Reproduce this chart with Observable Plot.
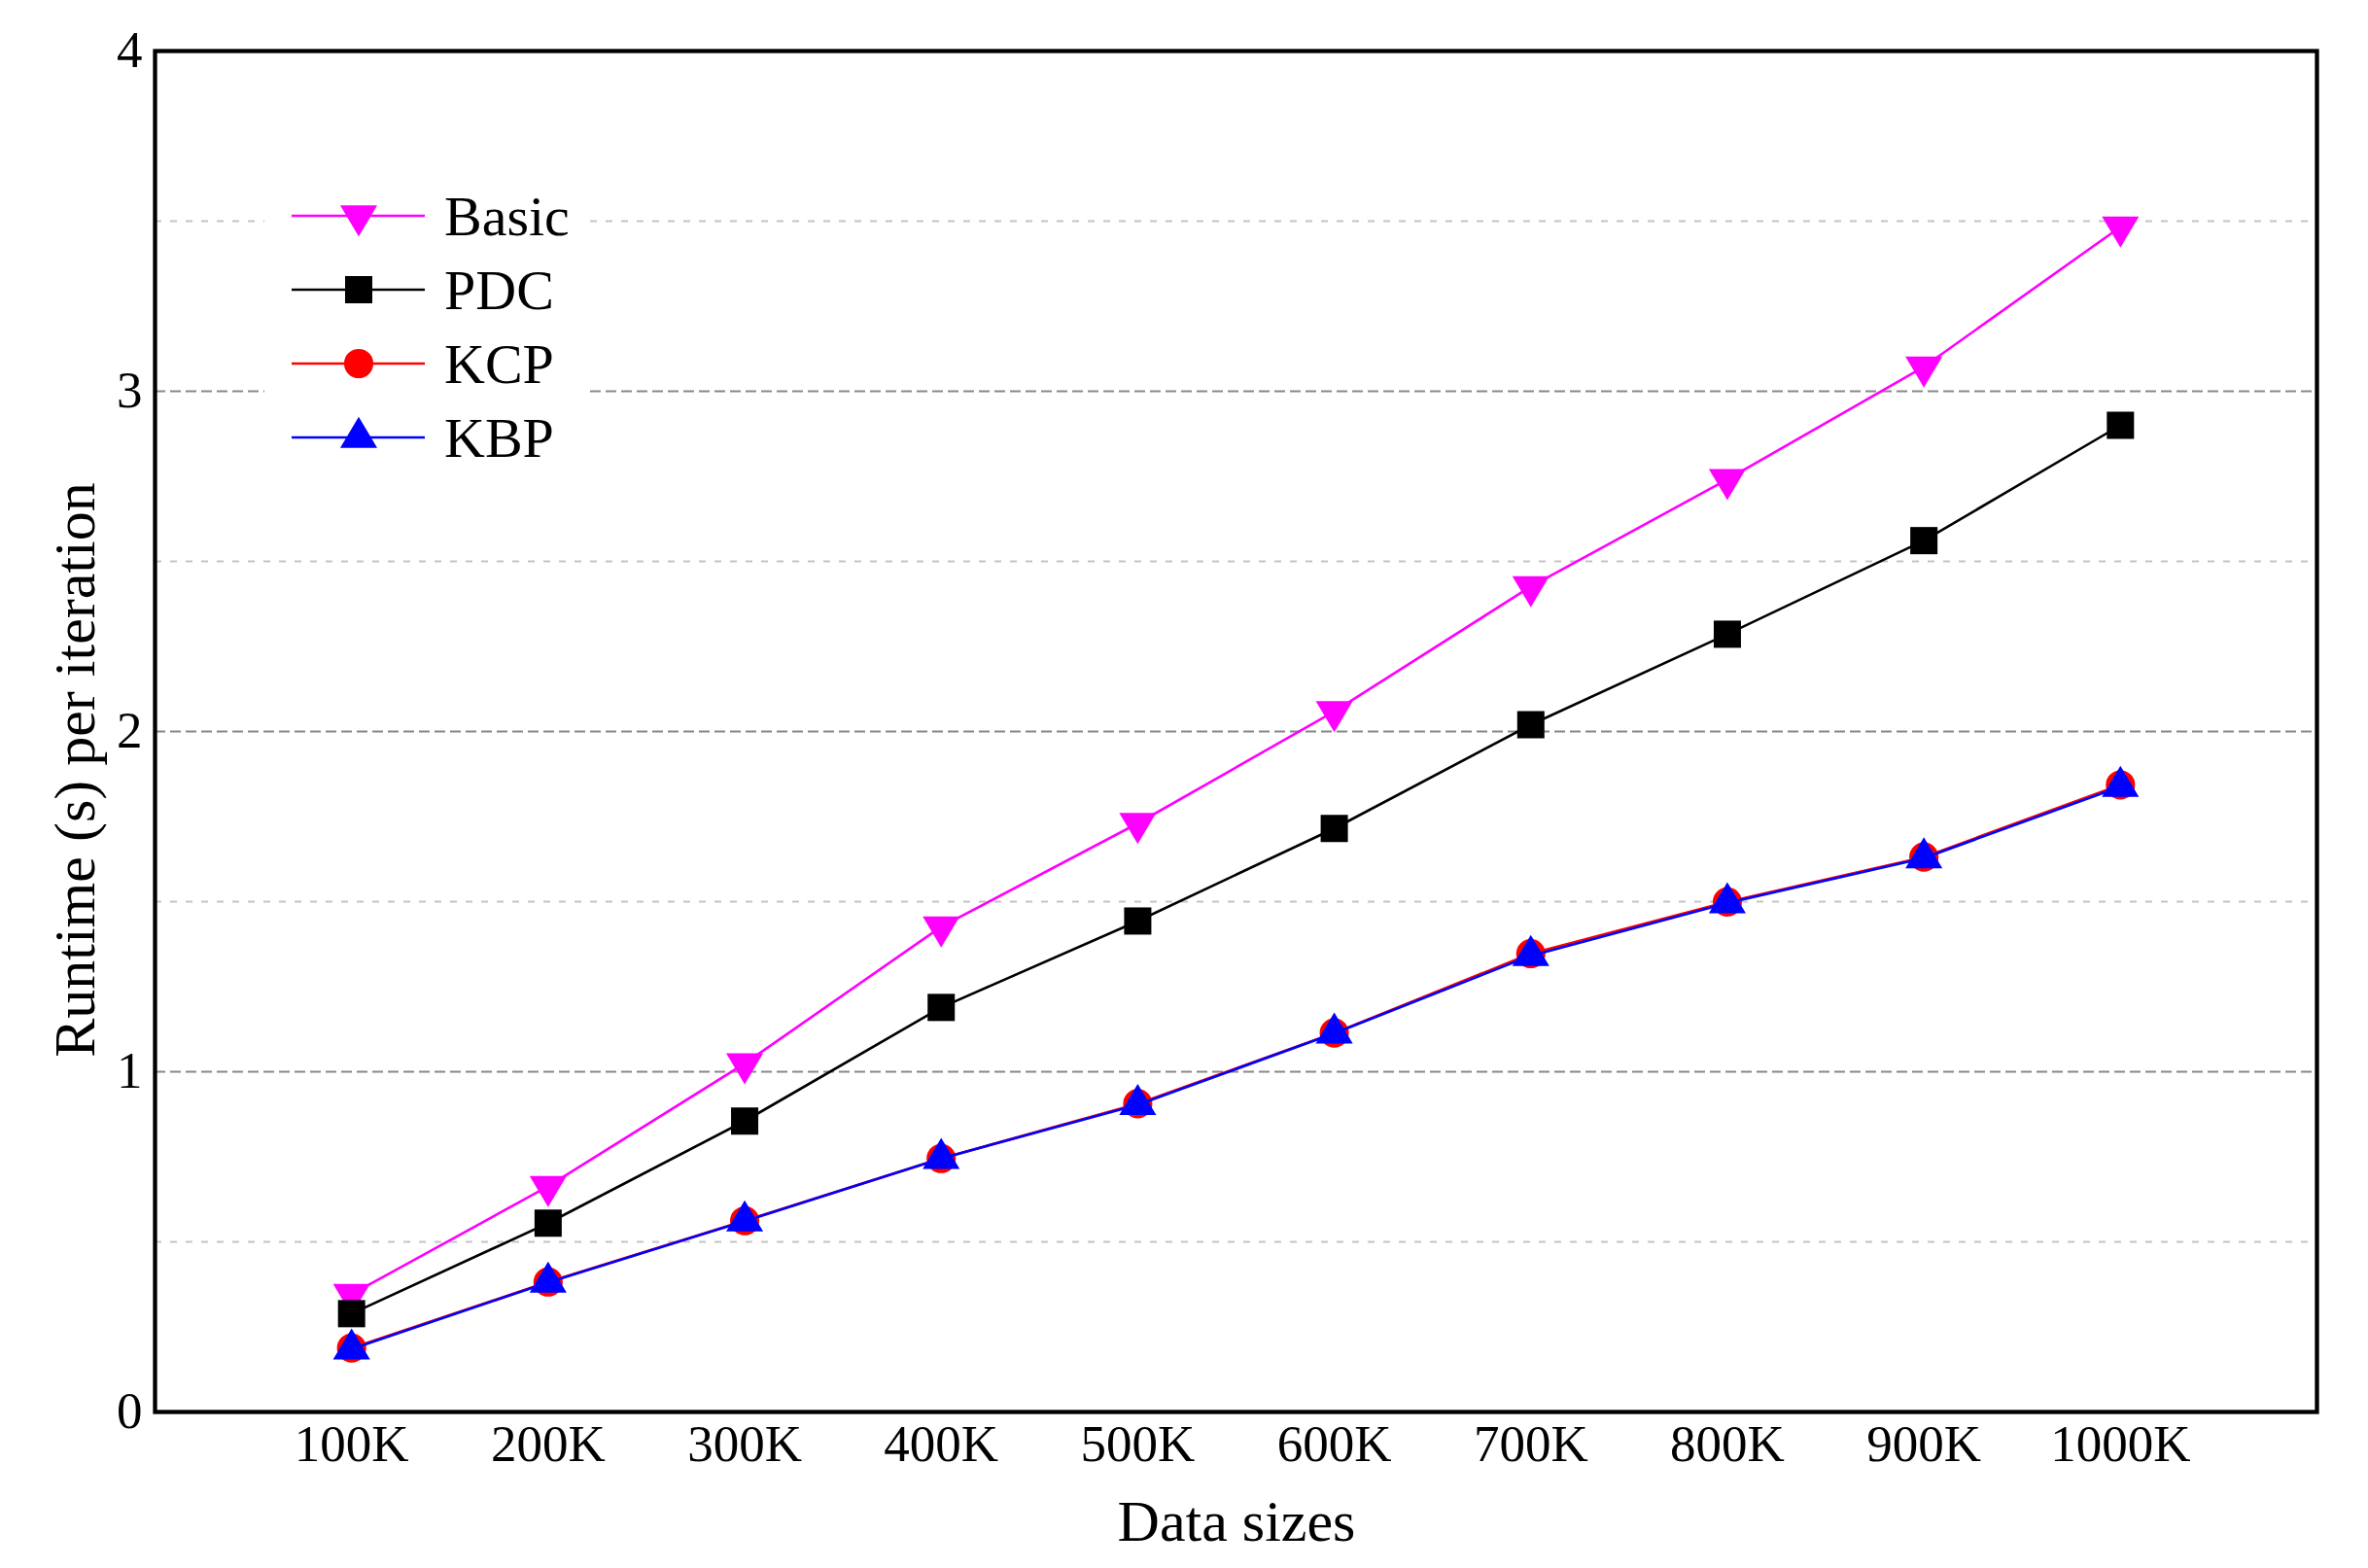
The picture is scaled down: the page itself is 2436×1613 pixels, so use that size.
<!DOCTYPE html>
<html>
<head>
<meta charset="utf-8">
<script src="https://cdn.jsdelivr.net/npm/d3@7"></script>
<script src="https://cdn.jsdelivr.net/npm/@observablehq/plot@0.6"></script>
<style>
  html, body { margin: 0; padding: 0; background: #ffffff; }
  #chart svg { display: block; }
</style>
</head>
<body>
<div id="chart"></div>
<script>
// ---- data ----
const sizes = [100, 200, 300, 400, 500, 600, 700, 800, 900, 1000];
const sizeLabels = ["100K", "200K", "300K", "400K", "500K", "600K", "700K", "800K", "900K", "1000K"];
const basic = [0.346, 0.663, 1.024, 1.426, 1.730, 2.059, 2.426, 2.741, 3.072, 3.483];
const pdc   = [0.289, 0.555, 0.855, 1.189, 1.443, 1.715, 2.020, 2.286, 2.561, 2.900];
const kcp   = [0.188, 0.382, 0.562, 0.745, 0.906, 1.114, 1.347, 1.499, 1.631, 1.843];
const kbp   = [0.185, 0.381, 0.561, 0.745, 0.903, 1.113, 1.341, 1.496, 1.628, 1.838];
const seriesNames = ["Basic", "PDC", "KCP", "KBP"];
const seriesColors = ["#ff00ff", "#000000", "#ff0000", "#0000ff"];
const seriesSymbols = ["down", "square", "circle", "up"];
const yTicks = [0, 1, 2, 3, 4];
const majorGrid = [1, 2, 3];
const minorGrid = [0.5, 1.5, 2.5, 3.5];
const xTitle = "Data sizes";
const yTitle = "Runtime (s) per iteration";

const seriesValues = [basic, pdc, kcp, kbp];
const rows = seriesNames.flatMap((name, i) =>
  sizes.map((s, j) => ({ series: name, size: s, value: seriesValues[i][j] })));

// ---- symbols (triangles centred on their centroid) ----
function sym(kind) {
  return {
    draw(ctx, size) {
      const r = Math.sqrt(size / Math.PI);
      const w = 1.19 * r, h = 2 * r;
      if (kind === "down") {
        ctx.moveTo(-w, -h / 3); ctx.lineTo(w, -h / 3); ctx.lineTo(0, 2 * h / 3); ctx.closePath();
      } else if (kind === "up") {
        ctx.moveTo(0, -2 * h / 3); ctx.lineTo(w, h / 3); ctx.lineTo(-w, h / 3); ctx.closePath();
      } else if (kind === "square") {
        const s = 0.875 * r;
        ctx.moveTo(-s, -s); ctx.lineTo(s, -s); ctx.lineTo(s, s); ctx.lineTo(-s, s); ctx.closePath();
      } else {
        const c = 0.94 * r;
        ctx.moveTo(c, 0); ctx.arc(0, 0, c, 0, 2 * Math.PI); ctx.closePath();
      }
    }
  };
}
const R = 16;
const LW = 2.6;

const W = 2436, H = 1613;
const FONT = "'Liberation Serif', 'Times New Roman', Times, serif";

const seriesMarks = seriesNames.flatMap((name, i) => {
  const d = rows.filter(r => r.series === name);
  return [
    Plot.line(d, { x: "size", y: "value", stroke: seriesColors[i], strokeWidth: LW }),
    Plot.dot(d, { x: "size", y: "value", r: R, symbol: sym(seriesSymbols[i]), fill: seriesColors[i], stroke: "none" })
  ];
});

const chart = Plot.plot({
  width: W,
  height: H,
  marginLeft: 159,
  marginRight: 53,
  marginTop: 52,
  marginBottom: 161,
  style: { fontFamily: FONT, fontSize: "53px", background: "#ffffff", color: "#000000" },
  x: { type: "linear", domain: [0, 1100] },
  y: { type: "linear", domain: [0, 4] },
  marks: [
    Plot.ruleY(minorGrid, { stroke: "#c4c4c4", strokeWidth: 2, strokeDasharray: "7,9" }),
    Plot.ruleY(majorGrid, { stroke: "#888888", strokeWidth: 2, strokeDasharray: "11,5" }),
    ...seriesMarks,
    Plot.frame({ stroke: "#000000", strokeWidth: 4.3 }),
    Plot.axisX({ ticks: sizes, tickFormat: (d) => sizeLabels[sizes.indexOf(d)], tickSize: 0, tickPadding: 13, label: null }),
    Plot.axisY({ ticks: yTicks, tickFormat: "d", tickSize: 0, tickPadding: 13, label: null })
  ]
});

document.getElementById("chart").appendChild(chart);

// ---- titles & legend ----
const svg = d3.select(chart);
const xs = chart.scale("x"), ys = chart.scale("y");
const pLeft = xs.range[0], pRight = xs.range[1];
const pTop = ys.range[1], pBottom = ys.range[0];

svg.append("text")
  .attr("x", (pLeft + pRight) / 2 + 1)
  .attr("y", pBottom + 133)
  .attr("text-anchor", "middle")
  .attr("font-size", 60)
  .attr("font-family", FONT)
  .attr("fill", "#000")
  .text(xTitle);

svg.append("text")
  .attr("transform", `translate(${pLeft - 81},${(pTop + pBottom) / 2 + 40}) rotate(-90)`)
  .attr("text-anchor", "middle")
  .attr("dy", "0.32em")
  .attr("font-size", 60)
  .attr("font-family", FONT)
  .attr("fill", "#000")
  .text(yTitle);

const lg = svg.append("g").attr("transform", `translate(${pLeft + 113},${pTop + 128})`);
lg.append("rect").attr("x", 0).attr("y", 0).attr("width", 330).attr("height", 295).attr("fill", "#ffffff");
seriesNames.forEach((name, i) => {
  const cy = 42 + i * 76;
  lg.append("line").attr("x1", 28).attr("x2", 165).attr("y1", cy).attr("y2", cy)
    .attr("stroke", seriesColors[i]).attr("stroke-width", LW);
  lg.append("path")
    .attr("transform", `translate(97,${cy})`)
    .attr("d", d3.symbol().type(sym(seriesSymbols[i])).size(Math.PI * R * R)())
    .attr("fill", seriesColors[i]);
  lg.append("text").attr("x", 185).attr("y", cy + 20)
    .attr("text-anchor", "start")
    .attr("font-size", 58).attr("font-family", FONT).attr("fill", "#000")
    .text(name);
});
</script>
</body>
</html>
